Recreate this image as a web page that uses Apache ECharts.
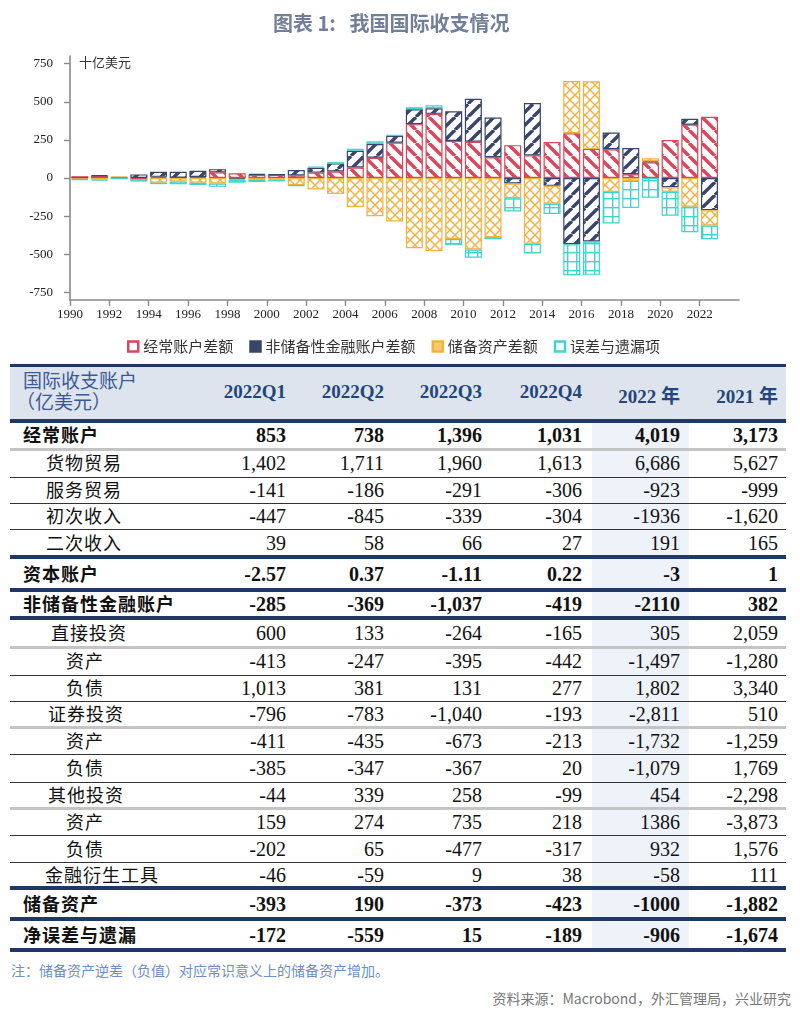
<!DOCTYPE html>
<html><head><meta charset="utf-8">
<script src="https://cdn.jsdelivr.net/npm/echarts@6/dist/echarts.min.js"></script>
<style>
html,body{margin:0;padding:0;background:#fff;width:800px;height:1014px;overflow:hidden;}
#page{position:relative;width:800px;height:1014px;}
#chart{position:absolute;left:0;top:0;width:800px;height:362px;}
.abs{position:absolute;white-space:nowrap;}
</style></head>
<body><div id="page"><div id="chart"></div></div>
<script>
// ---------- chart data (billion USD) ----------
const years = [1990,1991,1992,1993,1994,1995,1996,1997,1998,1999,2000,2001,2002,2003,2004,2005,2006,2007,2008,2009,2010,2011,2012,2013,2014,2015,2016,2017,2018,2019,2020,2021,2022];
const currentAccount = [12.0,13.3,6.4,-11.9,7.7,1.6,7.2,37.0,31.5,21.1,20.5,17.4,35.4,43.1,68.9,132.4,231.8,353,420.6,243.3,237.8,136.1,215.4,148.2,236.0,293.0,191.3,188.7,24.1,102.9,248.8,350,401.9];
const financialAccount = [-2.8,4.6,-0.3,23.5,32.6,38.7,40.0,21.0,-6.3,5.2,2.0,34.8,32.3,52.8,110,91,45.3,98,37,194.5,282.2,260,-36,343,-51.4,-434.5,-416.1,109.5,172.7,7.3,-61.1,38.2,-211.0];
const reserveAssets = [-6.1,-11.1,2.1,-1.8,-30.5,-22.5,-31.6,-35.7,-6.4,-8.5,-10.5,-47.3,-75.5,-105,-190.0,-250.6,-284.8,-460.7,-479.5,-400.3,-469.3,-387.8,-96.6,-431.4,-117.8,342.9,443.6,-91.5,-18.9,19.3,-30,-188.2,-100.0];
const errorsOmissions = [-3.1,-6.8,-8.2,-9.8,-9.8,-17.8,-15.5,-22.3,-18.9,-17.8,-11.9,-4.9,7.8,8.4,12.9,17,3.6,13.2,18.9,-41.4,-52.9,-13.8,-87.1,-62.9,-66.9,-202.9,-218.9,-206.6,-178.0,-129.2,-156.8,-167.4,-90.6];
const seriesNames = ['经常账户差额','非储备性金融账户差额','储备资产差额','误差与遗漏项'];
const yTickValues = [-750,-500,-250,0,250,500,750];
const xAxisMin = 1990, xAxisMax = 2024, xTickStep = 2;

// ---------- table data (亿美元) ----------
const tableHeaders = ['2022Q1','2022Q2','2022Q3','2022Q4','2022 年','2021 年'];
const rowLabels = ['经常账户','货物贸易','服务贸易','初次收入','二次收入','资本账户','非储备性金融账户','直接投资','资产','负债','证券投资','资产','负债','其他投资','资产','负债','金融衍生工具','储备资产','净误差与遗漏'];
const rowValues = [
 ['853','738','1,396','1,031','4,019','3,173'],
 ['1,402','1,711','1,960','1,613','6,686','5,627'],
 ['-141','-186','-291','-306','-923','-999'],
 ['-447','-845','-339','-304','-1936','-1,620'],
 ['39','58','66','27','191','165'],
 ['-2.57','0.37','-1.11','0.22','-3','1'],
 ['-285','-369','-1,037','-419','-2110','382'],
 ['600','133','-264','-165','305','2,059'],
 ['-413','-247','-395','-442','-1,497','-1,280'],
 ['1,013','381','131','277','1,802','3,340'],
 ['-796','-783','-1,040','-193','-2,811','510'],
 ['-411','-435','-673','-213','-1,732','-1,259'],
 ['-385','-347','-367','20','-1,079','1,769'],
 ['-44','339','258','-99','454','-2,298'],
 ['159','274','735','218','1386','-3,873'],
 ['-202','65','-477','-317','932','1,576'],
 ['-46','-59','9','38','-58','111'],
 ['-393','190','-373','-423','-1000','-1,882'],
 ['-172','-559','15','-189','-906','-1,674']
];
const boldRows = [0,5,6,17,18];

// ---------- layout / style ----------
const rowIndent = [23,46,46,46,46,23,23,51,66,66,48,66,66,48,66,66,45,23,23];
const colRight = [286,384,482,582,680,778];
const lineYs = [365.5,421,449,477,503,529,557,590,618,647,675,701,727,754,782,808,835,862,888,919,950];
const lineKinds = ['navy','navy','gray','thin','thin','thin','navy','navy','navy','gray','thin','thin','gray','thin','thin','gray','thin','thin','navy','navy','navy'];
const RED='#d8475b', NAVY='#3a4668', ORANGE='#f3b240', CYAN='#3fd4cc';

function makePattern(kind,color){
  const c=document.createElement('canvas');
  let S = kind==='cross'?10:(kind==='grid'?9:13);
  c.width=S;c.height=S;
  const g=c.getContext('2d');
  g.fillStyle='#fff';g.fillRect(0,0,S,S);
  g.strokeStyle=color;
  if(kind==='back'||kind==='fwd'){
    g.lineWidth=3.4;
    for(let k=-1;k<=1;k++){
      g.beginPath();
      if(kind==='back'){g.moveTo(k*S,0);g.lineTo(k*S+S,S);}
      else {g.moveTo(k*S,S);g.lineTo(k*S+S,0);}
      g.stroke();
    }
  } else if(kind==='cross'){
    g.lineWidth=1.4;
    for(let k=-1;k<=1;k++){
      g.beginPath();g.moveTo(k*S,0);g.lineTo(k*S+S,S);g.stroke();
      g.beginPath();g.moveTo(k*S,S);g.lineTo(k*S+S,0);g.stroke();
    }
  } else {
    g.lineWidth=1.4;
    g.beginPath();g.moveTo(0.7,0);g.lineTo(0.7,S);g.stroke();
    g.beginPath();g.moveTo(0,0.7);g.lineTo(S,0.7);g.stroke();
  }
  return {image:c,repeat:'repeat'};
}

const seriesValues=[currentAccount,financialAccount,reserveAssets,errorsOmissions];
const seriesColors=[RED,NAVY,ORANGE,CYAN];
const seriesPatterns=[makePattern('back',RED),makePattern('fwd',NAVY),makePattern('cross',ORANGE),makePattern('grid',CYAN)];
const legendFill=['#fff',NAVY,'#f6c870','#fff'];

// category bands: one per year from axis min to axis max (last band empty)
const bandCats=[];
for(let y=xAxisMin;y<xAxisMax;y++) bandCats.push(String(y));

const chart=echarts.init(document.getElementById('chart'),null,{renderer:'canvas'});
const axisColor='#8a8a8a';
chart.setOption({
  animation:false,
  title:{text:'图表 1:   我国国际收支情况',left:268,top:8,textStyle:{fontFamily:'Noto Sans CJK SC',fontSize:20,fontWeight:'bold',color:'#717f99'}},
  grid:{left:70,right:61,top:56,bottom:62},
  legend:{top:334,left:122,itemWidth:10,itemHeight:10,itemGap:16,
    textStyle:{fontFamily:'Noto Sans CJK SC',fontSize:15,color:'#333'},
    data:seriesNames.map((n,i)=>({name:n,icon:'rect',itemStyle:{color:legendFill[i],borderColor:seriesColors[i],borderWidth:2.5}}))},
  graphic:[{type:'text',left:79,top:56,style:{text:'十亿美元',font:'13px "Noto Sans CJK SC"',fill:'#333'}}],
  xAxis:[
    {type:'category',data:bandCats,boundaryGap:true,show:false},
    {type:'value',min:xAxisMin,max:xAxisMax,interval:xTickStep,position:'bottom',
      axisLine:{onZero:false,lineStyle:{color:axisColor,width:1.6}},
      axisTick:{show:true,length:6,lineStyle:{color:axisColor,width:1.4}},
      axisLabel:{color:'#222',fontFamily:'Liberation Serif',fontSize:13,margin:8,showMaxLabel:false,formatter:v=>v===xAxisMax?'':String(v)},
      splitLine:{show:false}}
  ],
  yAxis:{type:'value',min:-800,max:800,
    axisLine:{show:true,lineStyle:{color:axisColor,width:1.6}},
    axisTick:{show:true,length:6,customValues:yTickValues,lineStyle:{color:axisColor,width:1.4}},
    axisLabel:{customValues:yTickValues,color:'#222',fontFamily:'Liberation Serif',fontSize:13,margin:17},
    splitLine:{show:false}},
  series:seriesNames.map((n,i)=>({
    name:n,type:'bar',stack:'bop',barWidth:17,xAxisIndex:0,
    itemStyle:{color:seriesPatterns[i],borderColor:seriesColors[i],borderWidth:1.2},
    data:years.map((y,k)=>[String(y),seriesValues[i][k]])
  }))
});

// ---------- table ----------
const page=document.getElementById('page');
function add(css,text){const d=document.createElement('div');d.className='abs';d.style.cssText=css;if(text!==undefined)d.textContent=text;page.appendChild(d);return d;}
add('left:10px;top:367px;width:776px;height:53px;background:#dde4ee;');
add('left:592px;top:423px;width:97px;height:526px;background:#eef3fa;');
lineYs.forEach((y,i)=>{
  const k=lineKinds[i];
  const h=k==='navy'?3.5:(k==='gray'?3:1);
  const col=k==='navy'?'#1f3864':(k==='gray'?'#c4c4c4':'#333');
  add(`left:10px;width:776px;top:${y-h/2}px;height:${h}px;background:${col};`);
});
add('left:23px;top:368px;font:19px "Noto Sans CJK SC";line-height:24px;color:#3b5a95;','国际收支账户');
add('left:16px;top:389px;font:19px "Noto Sans CJK SC";line-height:24px;color:#3b5a95;','（亿美元）');
tableHeaders.forEach((h,j)=>{
  add(`left:${colRight[j]-120}px;width:120px;text-align:right;top:381px;line-height:24px;font:bold 19px "Liberation Serif","Noto Sans CJK SC";color:#22457d;`,h);
});
rowLabels.forEach((lab,i)=>{
  const cy=(lineYs[i+1]+lineYs[i+2])/2+2;
  const b=boldRows.includes(i);
  add(`left:${rowIndent[i]}px;top:${cy-16}px;line-height:26px;font:${b?'bold ':''}18px "Noto Sans CJK SC";letter-spacing:1px;color:#111;`,lab);
  rowValues[i].forEach((v,j)=>{
    add(`left:${colRight[j]-120}px;width:120px;text-align:right;top:${cy-13}px;line-height:26px;font:${b?'bold ':''}20px "Liberation Serif";color:#111;`,v);
  });
});
add('left:11px;top:960px;line-height:20px;font:14px "Noto Sans CJK SC";color:#6d8ec6;','注：储备资产逆差（负值）对应常识意义上的储备资产增加。');
add('right:9px;top:988px;line-height:20px;font:14px "Noto Sans CJK SC";color:#777;','资料来源：Macrobond，外汇管理局，兴业研究');
</script></body></html>
